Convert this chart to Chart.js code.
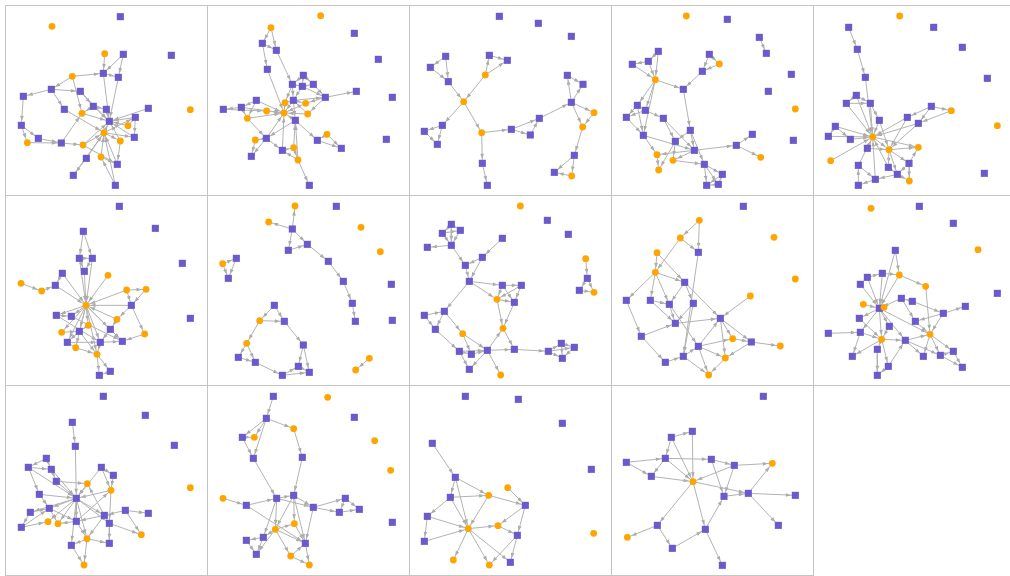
<!DOCTYPE html>
<html>
<head>
<meta charset="utf-8">
<script src="https://cdn.jsdelivr.net/npm/chart.js@4.4.1/dist/chart.umd.min.js"></script>
<style>
  body { margin: 0; background: #fff; width: 1010px; height: 576px; position: relative; overflow: hidden; }
  .cell { position: absolute; outline: 1px solid #c4c4c4; }
</style>
</head>
<body>
<script>
// node positions per panel (layout units), o = orange group, s = purple group
const p1Orange = [[141,64],[299,146],[202,214],[231,325],[369,362],[297,383],[346,408],[67,413],[234,420],[288,456],[556,314]];
const p1Purple = [[346,35],[499,151],[355,148],[295,205],[340,217],[139,253],[55,274],[226,259],[178,313],[265,304],[304,313],[430,310],[391,337],[313,349],[49,361],[100,400],[169,414],[388,397],[244,460],[337,478],[205,511],[331,541]];
const p1Links = ['o2-s3','s3-s4','o1-s3','s2-s3','s2-s4','s3-s13','s4-s13','o2-s5','o2-o3','s5-s6','s5-s7','s5-s8','s6-s14','s7-s13','s7-s9','s9-o3','s9-s10','s9-s13','s10-s13','s8-o5','o3-s13','s11-s13','s12-s13','s12-o4','s12-s17','o4-s13','o5-s13','o5-s12','o5-s17','o5-o6','o6-s13','o6-s19','s17-s13','s14-s15','s14-o7','o7-s16','s15-s16','s16-o8','s16-o3','o8-s13','o8-o5','o8-s19','s18-o5','s18-s20','s20-o5','o9-o5','o9-s19','s19-o5','s21-o5','s21-o9'];

const p2Orange = [[341,32],[192,68],[234,293],[296,295],[179,318],[231,324],[302,327],[121,340],[360,388],[145,405],[260,428],[273,465]];
const p2Purple = [[442,85],[514,163],[556,277],[538,403],[166,115],[208,136],[181,193],[289,211],[256,238],[286,244],[319,238],[355,277],[448,259],[259,286],[148,286],[103,307],[49,313],[265,346],[178,400],[331,406],[403,430],[133,454],[226,436],[307,541]];
const p2Links = ['o1-s4','o1-s5','s4-s5','s4-s6','s5-s8','s6-o5','s7-s8','s7-s9','s7-s10','s8-s9','s9-s10','s8-s13','s9-s13','s10-s11','s9-s11','s11-s12','s11-o6','s11-o3','s13-o2','s13-o3','s13-o5','s13-s17','o2-o5','o3-o5','o6-o5','o6-s13','s14-o5','s14-s15','s14-o7','s15-s16','s15-o7','s15-o5','s16-o4','o4-o5','o7-o5','o7-s18','s17-o5','s17-s18','s17-s19','o8-s19','o8-s20','s19-s20','s18-o9','s18-s21','o9-s21','s18-s22','s18-o5','s22-o5','s22-o10','o10-s17','o10-o11','o11-s17','o11-s22','o11-s23','s13-s11','s8-o2'];

const p3Orange = [[229,210],[164,290],[218,383],[555,323],[521,366],[488,513]];
const p3Purple = [[271,34],[388,55],[487,94],[110,154],[64,187],[118,230],[241,151],[295,166],[100,361],[46,379],[85,418],[307,373],[364,390],[391,340],[475,211],[522,238],[487,292],[220,475],[235,541],[496,451],[436,502]];
const p3Links = ['s3-s4','s3-s5','s4-s5','s5-o1','o0-s6','o0-s7','s6-s7','o0-o1','o1-s8','s8-s9','s8-s10','s9-s10','o1-o2','o2-s11','s11-s12','s11-s13','s12-s13','s13-s16','s16-s14','s16-s15','s14-s15','s16-o3','s16-o4','o3-o4','o4-s19','s19-s20','s19-o5','o5-s20','o2-s17','s17-s18'];

const p4Orange = [[226,33],[325,177],[133,224],[553,312],[138,449],[186,466],[143,495],[449,457]];
const p4Purple = [[349,43],[445,97],[466,145],[541,208],[472,259],[547,406],[142,139],[112,169],[64,178],[295,148],[274,199],[217,253],[79,301],[103,316],[46,337],[157,340],[97,391],[238,376],[193,409],[250,436],[424,388],[376,421],[280,478],[334,508],[322,538],[287,541]];
const p4Links = ['s1-s2','s6-s7','s7-s8','s6-o2','s7-o2','s8-o2','o2-s11','s9-s10','s9-o1','o1-s10','s10-s11','o2-s12','o2-s13','o2-s16','s12-s13','s12-s14','s13-s14','s13-s15','s14-s16','s12-s16','s11-s17','s15-s18','s15-s19','s16-s19','s16-o4','s17-s18','s17-s19','s18-o5','s18-o6','s17-s22','s19-s21','s21-s20','s21-o7','s19-o5','s19-o4','o4-o6','o5-s22','s22-s23','s22-s24','s22-s25','s23-s24','s23-s25','s24-s25'];

const p5Orange = [[260,33],[415,317],[553,362],[179,396],[228,434],[316,427],[53,467],[289,528]];
const p5Purple = [[362,67],[448,127],[523,220],[514,505],[107,67],[133,133],[157,217],[130,271],[100,295],[172,295],[199,346],[355,304],[283,337],[316,355],[67,364],[46,394],[112,403],[163,430],[136,481],[226,487],[288,475],[253,508],[187,523],[136,541]];
const p5Links = ['s4-s5','s5-s6','s6-o3','s7-s8','s7-s9','s8-s9','s9-s10','s8-o3','s7-o3','s9-o3','s10-o3','s10-o4','s11-o1','s11-s12','s11-s13','o1-s13','s12-o3','s13-o3','s12-o4','s13-o4','s14-s15','s14-s16','s15-o3','s16-o3','s14-o3','s17-o3','s17-o4','o6-o3','o3-o4','o4-o5','o3-o5','o4-s20','s20-o5','o4-s19','o4-s21','s20-o7','s21-o7','s19-s21','s21-s22','s22-s23','s22-o3','s18-o3','s18-s22','s19-o3','s20-s21','s23-s18'];

const p6Orange = [[243,331],[48,265],[110,288],[309,241],[365,285],[423,283],[336,373],[250,391],[170,412],[212,458],[276,478],[419,417]];
const p6Purple = [[343,34],[451,100],[532,205],[556,370],[235,109],[223,190],[262,190],[238,229],[172,235],[151,271],[379,331],[154,361],[199,364],[223,409],[316,403],[187,442],[286,442],[352,439],[316,529],[283,541]];
const p6Links = ['s4-s5','s4-s6','s5-s6','s5-s7','s6-s7','s5-o0','s6-o0','s7-o0','s8-s9','s8-o0','s9-o0','o1-o2','o2-s9','o3-o0','o4-o5','o4-o0','o4-s10','o5-s10','s10-o0','s10-o6','s10-o11','o11-s17','o6-s14','o6-o0','o0-s11','o0-s12','o0-o7','o0-s13','o0-o8','o0-s16','o0-s14','o0-o10','o0-s15','o0-o9','s11-s12','s11-s16','s12-s17','o7-s13','o8-s13','s13-s15','s15-o9','o9-o10','s15-s16','s16-s17','s14-s16','s14-s17','o10-s18','o10-s19','s18-s19','s16-o10','s13-o10','o0-s17'];

const p7Orange = [[264,33],[185,81],[462,97],[520,170],[47,206],[158,377],[119,445],[487,490],[446,525]];
const p7Purple = [[388,34],[553,268],[556,376],[256,102],[244,166],[301,148],[364,199],[409,259],[436,325],[445,379],[88,190],[64,250],[202,331],[232,379],[289,450],[94,487],[145,502],[226,541],[274,514],[307,532]];
const p7Links = ['s3-o0','s3-o1','s3-s4','s3-s5','s4-s5','s5-s6','s6-s7','s7-s8','s8-s9','o4-s10','o4-s11','s10-s11','s12-o5','s12-s13','o5-s13','s13-s14','o5-o6','o6-s15','o6-s16','s15-s16','s16-s17','s17-s18','s17-s19','s18-s19','s14-s18','s14-s19','o7-o8'];

const p8Orange = [[334,33],[530,191],[555,292],[264,313],[282,400],[161,416],[275,540]];
const p8Purple = [[415,76],[478,118],[127,88],[100,115],[154,106],[127,151],[55,157],[280,130],[220,187],[169,211],[181,259],[280,271],[337,271],[316,322],[535,250],[511,286],[46,361],[106,349],[79,403],[151,469],[187,478],[235,466],[181,523],[316,463],[418,469],[457,445],[496,457],[460,490]];
const p8Links = ['s2-s3','s2-s4','s3-s4','s3-s5','s4-s5','s2-s5','s5-s6','s5-s9','s7-s8','s8-s9','s8-s10','s9-s10','s10-s11','s10-o3','s11-s12','s11-o3','s11-s13','s12-o3','s12-s13','o3-s13','o3-o4','s13-o4','s10-s17','s16-s17','s16-s18','s17-s18','s17-o5','s18-s19','o5-s21','o5-s20','s19-s20','s19-s21','s19-s22','s20-s21','s21-s22','s21-o4','o4-s23','s21-s23','s21-o6','s23-s24','s24-s25','s24-s26','s24-s27','s25-s26','s25-s27','s26-s27','o1-s14','s14-s15','s14-o2','s15-o2'];

const p9Orange = [[265,76],[208,129],[489,127],[138,173],[133,232],[553,252],[418,303],[365,431],[508,453],[343,489],[293,540]];
const p9Purple = [[397,34],[262,172],[221,262],[46,316],[118,316],[175,328],[247,325],[328,370],[193,385],[91,424],[262,454],[421,441],[217,484],[163,502]];
const p9Links = ['o0-o1','o0-s1','o1-s1','o1-o4','o3-o4','o4-s2','o4-s3','o4-s4','o4-s5','o3-s2','s2-s5','s2-s6','s2-s7','s4-s5','s4-s8','s5-s8','s6-s8','s6-s12','s1-s12','s3-s9','s9-s8','s8-s7','s9-s13','s13-s12','s12-s10','s10-s7','s10-o7','s10-o9','s10-o10','s12-o10','s5-s10','o6-s7','s7-s11','s7-o7','s7-o9','o7-s11','s11-o9','s11-o8','o9-o10'];

const p10Orange = [[174,40],[495,164],[259,240],[338,274],[151,328],[213,337],[206,433],[351,418]];
const p10Purple = [[319,34],[421,85],[553,295],[247,166],[163,247],[208,235],[142,268],[265,310],[298,319],[199,340],[457,334],[391,355],[139,370],[229,394],[307,379],[46,415],[142,412],[277,436],[193,463],[118,484],[331,484],[382,481],[421,469],[448,517],[226,514],[193,541]];
const p10Links = ['s3-o2','s5-o2','o2-o3','s5-s9','s4-s9','s6-s9','o2-s9','o4-s9','o5-s9','s7-s9','s8-s7','s7-s14','s8-s11','s9-s12','s9-s16','s9-s13','s9-o6','s9-s17','s9-o7','s11-s10','s11-s14','s11-o7','o3-o7','s15-s16','s16-o6','s12-o6','s13-o6','s16-s19','o6-s17','o6-s18','o6-s24','s18-s25','s24-s25','s24-s17','s17-o7','s17-s20','s17-s21','o7-s20','o7-s21','o7-s22','s21-s22','s22-s23','s21-s23','s14-o7','o6-s19','s4-s5','s3-s9'];

const p11Orange = [[556,308],[247,296],[318,316],[129,410],[159,416],[246,461],[409,449],[237,540]];
const p11Purple = [[295,34],[421,91],[508,181],[202,112],[211,184],[124,220],[70,247],[139,253],[289,247],[325,271],[154,289],[103,328],[214,340],[76,382],[133,370],[361,376],[430,385],[298,391],[313,415],[214,409],[49,427],[199,481],[313,475]];
const p11Links = ['s3-s4','s4-s12','s5-s6','s5-s7','s6-s7','s6-s11','s7-s10','s10-o1','s10-s12','s7-s12','s6-s12','s11-s12','s11-s14','s8-s9','s8-o2','s9-o2','s8-s12','o1-s12','o2-s12','s12-s14','s12-s13','s12-o3','s12-o4','s12-s19','s12-s17','s12-o5','s12-s21','s12-s18','s13-s20','s20-s14','s20-o3','s13-s14','s14-o4','s14-s19','s15-s16','s15-s17','s15-o6','s18-o6','s17-s18','s17-s19','s17-o5','s17-o1','s18-s22','o2-s18','o5-s22','o5-s21','o5-o7','s21-o7','s19-o5','s19-o4','s19-o2'];

const p12Orange = [[362,37],[142,157],[260,131],[503,167],[551,256],[48,340],[262,416],[205,433],[251,513],[307,540]];
const p12Purple = [[199,34],[178,100],[106,157],[139,220],[442,97],[286,217],[209,340],[260,331],[118,361],[319,367],[415,340],[397,382],[457,373],[556,412],[169,457],[118,466],[148,508],[295,475]];
const p12Links = ['s0-s1','s1-o2','s1-s2','s1-o1','s1-s3','s2-o1','s2-s3','s3-s6','o2-s5','s5-s7','o5-s8','s8-s6','s6-s7','s6-s9','s7-s9','s7-o6','s6-o7','s7-o7','s9-s10','s9-s11','s10-s11','s10-s12','s11-s12','s9-s17','s8-s17','o7-s14','o7-o6','o7-o8','o7-s17','s14-s15','s14-s16','s15-s16','o6-s17','o8-s17','o8-o9','s17-o9','o7-s16','s6-s14','s7-s17'];

const p13Orange = [[296,308],[239,331],[267,422],[178,431],[133,525],[241,540],[554,445]];
const p13Purple = [[169,34],[328,43],[460,115],[547,253],[70,175],[139,277],[124,337],[349,361],[55,394],[46,469],[325,451],[304,532]];
const p13Links = ['s4-s5','s5-s6','s5-o1','s5-o3','s6-o1','s6-s8','s6-o3','s8-s9','s8-o3','s9-o3','o0-s7','o1-s7','o1-o3','s7-o2','s7-s10','o3-o2','o2-s10','s10-s11','s10-o5','o3-o4','o3-o5','o3-s11'];

const p14Orange = [[484,235],[246,290],[49,457]];
const p14Purple = [[457,34],[181,157],[244,139],[46,232],[163,220],[301,223],[370,241],[121,274],[339,334],[412,325],[553,331],[502,421],[139,421],[283,433],[184,490],[334,541]];
const p14Links = ['s1-s2','s1-s4','s1-o1','s2-o1','s3-s4','s3-s7','s4-s7','s4-s5','s4-o1','s7-o1','s5-s6','s5-s8','s6-o0','s6-o1','s6-s8','o1-s9','s8-s9','s9-o0','s9-s10','s9-s11','o1-s12','o1-s13','s12-o2','s12-s14','s14-s13','s13-s8','s13-s15'];

const panels = [
  [p1Orange, p1Purple, p1Links], [p2Orange, p2Purple, p2Links], [p3Orange, p3Purple, p3Links],
  [p4Orange, p4Purple, p4Links], [p5Orange, p5Purple, p5Links], [p6Orange, p6Purple, p6Links],
  [p7Orange, p7Purple, p7Links], [p8Orange, p8Purple, p8Links], [p9Orange, p9Purple, p9Links],
  [p10Orange, p10Purple, p10Links], [p11Orange, p11Purple, p11Links], [p12Orange, p12Purple, p12Links],
  [p13Orange, p13Purple, p13Links], [p14Orange, p14Purple, p14Links]
];

// small arrowheads at the target end of every edge segment
const arrowHeads = {
  id: 'arrowHeads',
  beforeDatasetsDraw(chart) {
    const meta = chart.getDatasetMeta(2);
    const ctx = chart.ctx;
    ctx.save();
    ctx.fillStyle = '#a4a4a4';
    for (let i = 0; i + 1 < meta.data.length; i += 3) {
      const a = meta.data[i], b = meta.data[i + 1];
      const dx = b.x - a.x, dy = b.y - a.y;
      const len = Math.hypot(dx, dy);
      if (len < 10) continue;
      const ux = dx / len, uy = dy / len;
      const tx = b.x - ux * 4.5, ty = b.y - uy * 4.5;
      ctx.beginPath();
      ctx.moveTo(tx, ty);
      ctx.lineTo(tx - ux * 5 + uy * 1.8, ty - uy * 5 - ux * 1.8);
      ctx.lineTo(tx - ux * 5 - uy * 1.8, ty - uy * 5 + ux * 1.8);
      ctx.closePath();
      ctx.fill();
    }
    ctx.restore();
  }
};

panels.forEach(([orange, purple, links], k) => {
  const col = k % 5, row = Math.floor(k / 5);
  const w = col === 4 ? 196 : 201;
  const cell = document.createElement('div');
  cell.className = 'cell';
  cell.style.left = (6 + col * 202) + 'px';
  cell.style.top = (6 + row * 190) + 'px';
  cell.style.width = w + 'px';
  cell.style.height = '189px';
  const canvas = document.createElement('canvas');
  cell.appendChild(canvas);
  document.body.appendChild(cell);

  const node = id => (id[0] === 'o' ? orange : purple)[+id.slice(1)];
  const edgePts = [];
  links.forEach(l => {
    const [a, b] = l.split('-').map(node);
    edgePts.push({x: a[0], y: a[1]}, {x: b[0], y: b[1]}, {x: null, y: null});
  });

  new Chart(canvas, {
    type: 'scatter',
    data: {
      datasets: [
        {
          data: orange.map(([x, y]) => ({x, y})),
          pointStyle: 'circle',
          pointRadius: 3.4,
          backgroundColor: '#ffa500',
          borderWidth: 0,
          clip: false
        },
        {
          data: purple.map(([x, y]) => ({x, y})),
          pointStyle: 'rect',
          pointRadius: 5,
          backgroundColor: '#6a5acd',
          borderWidth: 0,
          clip: false
        },
        {
          data: edgePts,
          showLine: true,
          spanGaps: false,
          pointRadius: 0,
          borderColor: '#b2b2b2',
          borderWidth: 1,
          clip: false
        }
      ]
    },
    options: {
      animation: false,
      responsive: true,
      maintainAspectRatio: false,
      devicePixelRatio: 1,
      events: [],
      layout: { padding: 0, autoPadding: false },
      plugins: { legend: { display: false }, tooltip: { enabled: false } },
      scales: {
        x: { type: 'linear', min: 3, max: 3 + w * 3, display: false },
        y: { type: 'linear', min: 3, max: 570, reverse: true, display: false }
      }
    },
    plugins: [arrowHeads]
  });
});
</script>
</body>
</html>
